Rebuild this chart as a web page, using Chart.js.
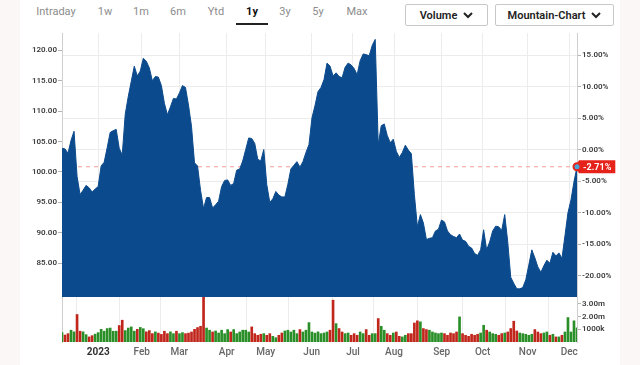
<!DOCTYPE html>
<html>
<head>
<meta charset="utf-8">
<script src="https://cdn.jsdelivr.net/npm/chart.js@4.4.0/dist/chart.umd.min.js"></script>
<style>
  body { margin: 0; width: 640px; height: 365px; background: #fcf7f7; font-family: Roboto, "Open Sans", sans-serif; overflow: hidden; }
  #panel { position: absolute; left: 20px; top: 0; width: 600px; height: 365px; background: #fff; }
  .tab { position: absolute; top: 5px; font-size: 11px; color: #8c8c8c; transform: translateX(-50%); }
  .tab.on { color: #111; font-weight: 700; }
  #underline { position: absolute; left: 236px; top: 23px; width: 32px; height: 2px; background: #222; }
  .btn { position: absolute; top: 4px; height: 20px; border: 1px solid #c9c9c9; border-radius: 2px; background: #fff;
         font-size: 11px; font-weight: 600; color: #222; display: flex; align-items: center; justify-content: center; gap: 6px; }
  .btn svg { width: 10px; height: 7px; }
  #priceBox { position: absolute; left: 0; top: 27px; }
  #volBox { position: absolute; left: 0; top: 297px; }
</style>
</head>
<body>
<div id="panel"></div>
<span class="tab" style="left:56px">Intraday</span>
<span class="tab" style="left:105px">1w</span>
<span class="tab" style="left:141px">1m</span>
<span class="tab" style="left:178px">6m</span>
<span class="tab" style="left:216px">Ytd</span>
<span class="tab on" style="left:252px">1y</span>
<span class="tab" style="left:285px">3y</span>
<span class="tab" style="left:318px">5y</span>
<span class="tab" style="left:357px">Max</span>
<div id="underline"></div>
<div class="btn" style="left:405px;width:81px">Volume <svg viewBox="0 0 10 7"><polyline points="1,1 5,5 9,1" fill="none" stroke="#222" stroke-width="2"/></svg></div>
<div class="btn" style="left:495px;width:117px">Mountain-Chart <svg viewBox="0 0 10 7"><polyline points="1,1 5,5 9,1" fill="none" stroke="#222" stroke-width="2"/></svg></div>
<div id="priceBox"><canvas id="price" width="640" height="270"></canvas></div>
<div id="volBox"><canvas id="volume" width="640" height="68"></canvas></div>
<script>
// closing prices, roughly every second trading day, Dec 2022 -> Dec 2023
var closes = [
  103.9, 103.8, 103.1, 105.2, 106.7, 99.3, 96.3, 97.0, 97.8, 97.4,
  96.7, 97.2, 97.6, 101.0, 101.6, 104.0, 106.5, 106.8, 107.0, 103.9,
  102.8, 109.5, 112.4, 114.9, 117.4, 115.8, 116.6, 118.7, 118.2, 117.1,
  115.0, 115.7, 115.6, 114.2, 111.3, 109.4, 110.7, 112.1, 112.0, 113.0,
  114.2, 113.9, 111.0, 107.5, 101.5, 101.0, 97.0, 94.0, 95.8, 95.8,
  94.1, 94.6, 95.2, 97.6, 98.6, 98.7, 97.8, 98.1, 100.3, 100.5,
  101.8, 103.7, 105.6, 105.5, 104.7, 102.1, 101.8, 103.7, 97.9, 95.0,
  95.6, 96.8, 96.2, 95.9, 95.9, 98.0, 100.5, 101.1, 101.7, 100.8,
  101.7, 103.2, 104.5, 108.9, 110.9, 113.2, 113.9, 115.2, 117.9, 117.4,
  115.8, 116.3, 115.7, 115.5, 117.2, 117.9, 117.6, 117.0, 116.0, 118.3,
  119.4, 119.3, 119.1, 120.8, 121.8, 104.5, 107.6, 107.9, 106.0, 104.8,
  105.4, 103.4, 102.4, 103.2, 104.4, 103.6, 103.0, 96.3, 91.0, 93.0,
  91.6, 88.9, 89.1, 89.2, 90.3, 90.6, 92.1, 91.8, 90.3, 89.7,
  89.4, 89.2, 89.8, 88.8, 88.6, 87.8, 87.5, 86.6, 86.3, 87.2,
  90.5, 87.2, 88.5, 90.3, 91.1, 91.0, 90.4, 93.0, 88.5, 82.7,
  81.7, 80.8, 80.8, 81.0, 82.3, 84.7, 87.2, 85.9, 84.4, 83.5,
  84.6, 85.5, 85.0, 86.8, 86.2, 86.7, 85.8, 89.5, 93.3, 95.4,
  98.4, 100.86
];

// volume in millions, same days
var volumes = [
  0.74, 0.55, 0.66, 0.93, 0.8, 2.17, 0.85, 0.8, 0.58, 0.4,
  0.5, 0.62, 0.74, 1.0, 0.85, 1.06, 1.1, 0.85, 0.85, 1.3,
  1.72, 0.9, 1.1, 1.19, 0.85, 1.0, 1.15, 1.05, 0.8, 0.9,
  0.66, 0.8, 0.7, 0.6, 0.85, 0.66, 0.8, 0.66, 0.85, 0.66,
  0.74, 0.66, 0.7, 0.79, 1.0, 1.14, 1.24, 3.6, 1.1, 0.93,
  0.79, 0.87, 0.71, 0.93, 0.66, 0.98, 0.79, 0.98, 0.66, 0.79,
  0.93, 0.93, 0.79, 1.19, 0.66, 0.53, 0.61, 0.66, 0.53, 0.66,
  0.45, 0.34, 0.53, 0.71, 0.87, 0.93, 0.79, 0.93, 0.66, 0.98,
  0.79, 0.93, 1.53, 0.79, 0.7, 0.8, 0.66, 0.71, 0.79, 0.93,
  3.3, 1.45, 1.06, 0.79, 0.66, 0.71, 0.53, 0.66, 0.53, 0.79,
  0.66, 0.98, 0.53, 0.66, 0.66, 1.85, 1.24, 0.93, 0.66, 0.53,
  0.71, 0.79, 0.45, 0.4, 0.53, 0.66, 0.66, 1.5, 1.67, 1.59,
  1.06, 0.98, 0.93, 0.79, 0.71, 0.66, 0.71, 0.66, 0.53, 0.71,
  0.66, 0.79, 1.98, 0.66, 0.53, 0.45, 0.61, 0.53, 0.61, 0.71,
  1.32, 0.93, 0.79, 0.66, 0.61, 0.53, 0.66, 0.71, 0.79, 1.06,
  1.64, 0.87, 0.71, 0.66, 0.61, 0.53, 0.61, 0.98, 0.79, 0.66,
  0.71, 0.79, 0.53, 0.61, 0.4, 0.4, 0.53, 0.79, 1.93, 0.79,
  1.67, 1.11
];

var monthTicks = [12.05, 26.46, 38.95, 54.69, 67.64, 82.91, 96.62, 110.24, 126.08, 139.69, 154.63, 168.44];
var monthLabels = ['2023', 'Feb', 'Mar', 'Apr', 'May', 'Jun', 'Jul', 'Aug', 'Sep', 'Oct', 'Nov', 'Dec'];
var priceTicks = [85, 90, 95, 100, 105, 110, 115, 120];
var pctTicks = [-20, -15, -10, -5, 0, 5, 10, 15];
var volTicks = [1, 2, 3];

var baseClose = 103.67;   // close the % axis is measured from
var priceMin = 79.45, priceMax = 122.85;
var volMax = 3.55;

var n = closes.length;
var last = closes[n - 1];
function pct(v) { return (v / baseClose - 1) * 100; }

var blue = '#0b4a8c';
var lineGrey = '#cfcfcf';
var gridGrey = '#ececec';
var tickFont = { family: 'Roboto', size: 8, weight: '600' };

// fixed axis width, and no extra label padding so the panels line up
function fixWidth(w) { return function(s) { s.width = w; s.paddingTop = 0; s.paddingBottom = 0; }; }
function setTicks(list) { return function(s) { s.ticks = list.map(function(v) { return { value: v }; }); }; }

// marker + red % badge at the last close
var lastBadge = {
  id: 'lastBadge',
  afterDraw: function(chart) {
    var ctx = chart.ctx;
    var x = chart.scales.x.getPixelForValue(n - 1);
    var y = chart.scales.y.getPixelForValue(last);
    var label = pct(last).toFixed(2) + '%';
    ctx.save();
    ctx.font = '700 9px Roboto';
    var w = ctx.measureText(label).width + 8;
    var bx = chart.chartArea.right + 2;
    ctx.fillStyle = '#e5231b';
    ctx.beginPath();
    ctx.moveTo(bx - 4, y);
    ctx.lineTo(bx, y - 6.5);
    ctx.lineTo(bx + w, y - 6.5);
    ctx.lineTo(bx + w, y + 6.5);
    ctx.lineTo(bx, y + 6.5);
    ctx.closePath();
    ctx.fill();
    ctx.fillStyle = '#fff';
    ctx.textBaseline = 'middle';
    ctx.fillText(label, bx + 4, y + 0.5);
    ctx.beginPath();
    ctx.arc(x, y, 3.5, 0, Math.PI * 2);
    ctx.fillStyle = '#4aa3d6';
    ctx.fill();
    ctx.lineWidth = 2;
    ctx.strokeStyle = '#e5231b';
    ctx.stroke();
    ctx.restore();
  }
};

new Chart('price', {
  type: 'line',
  data: {
    datasets: [
      {
        data: closes.map(function(v, i) { return { x: i, y: v }; }),
        borderColor: blue,
        backgroundColor: blue,
        borderWidth: 1,
        pointRadius: 0,
        fill: 'start',
        tension: 0,
        order: 1
      },
      {
        data: [{ x: 0, y: last }, { x: n - 1, y: last }],
        borderColor: '#f29c9c',
        borderWidth: 1,
        borderDash: [4, 4],
        pointRadius: 0,
        fill: false,
        order: 2
      }
    ]
  },
  options: {
    responsive: false,
    animation: false,
    devicePixelRatio: 1,
    layout: { padding: { top: 6, left: 0, right: 0, bottom: 0 } },
    plugins: { legend: { display: false }, tooltip: { enabled: false } },
    scales: {
      x: {
        type: 'linear', min: 0, max: n - 1,
        afterBuildTicks: setTicks(monthTicks),
        afterFit: function(s) { s.height = 0; s.paddingLeft = 0; s.paddingRight = 0; },
        ticks: { display: false },
        grid: { color: gridGrey, drawTicks: false },
        border: { display: false }
      },
      y: {
        position: 'left', min: priceMin, max: priceMax,
        afterBuildTicks: setTicks(priceTicks),
        afterFit: fixWidth(62),
        ticks: { padding: 1, color: '#3a3a3a', font: tickFont, callback: function(v) { return v.toFixed(2); } },
        grid: { drawOnChartArea: false, tickLength: 4, tickColor: '#b5b5b5' },
        border: { color: lineGrey }
      },
      yp: {
        position: 'right', min: pct(priceMin), max: pct(priceMax),
        afterBuildTicks: setTicks(pctTicks),
        afterFit: fixWidth(63),
        ticks: { padding: 1, color: '#3a3a3a', font: tickFont, callback: function(v) { return v.toFixed(2) + '%'; } },
        grid: { color: gridGrey, tickLength: 4, tickColor: '#b5b5b5' },
        border: { color: lineGrey }
      }
    }
  },
  plugins: [lastBadge]
});

new Chart('volume', {
  type: 'bar',
  data: {
    datasets: [{
      data: volumes.map(function(v, i) { return { x: i, y: v }; }),
      yAxisID: 'yv',
      backgroundColor: volumes.map(function(v, i) {
        return i === 0 || closes[i] >= closes[i - 1] ? '#2a8f28' : '#c0261c';
      }),
      barThickness: 2
    }]
  },
  options: {
    responsive: false,
    animation: false,
    devicePixelRatio: 1,
    layout: { padding: 0 },
    plugins: { legend: { display: false }, tooltip: { enabled: false } },
    scales: {
      x: {
        type: 'linear', min: 0, max: n - 1, offset: false,
        afterBuildTicks: setTicks(monthTicks),
        afterFit: function(s) { s.height = 23; s.paddingLeft = 0; s.paddingRight = 0; },
        ticks: {
          autoSkip: false, maxRotation: 0, padding: 4,
          color: function(c) { return c.index === 0 ? '#333' : '#666'; },
          font: function(c) { return { family: 'Roboto', size: 10, weight: c.index === 0 ? '700' : '500' }; },
          callback: function(v, i) { return monthLabels[i]; }
        },
        grid: { color: gridGrey, drawTicks: false },
        border: { display: false }
      },
      y: {
        position: 'left', min: 0, max: volMax,
        afterFit: fixWidth(62),
        ticks: { display: false },
        grid: { display: false },
        border: { color: lineGrey }
      },
      yv: {
        position: 'right', min: 0, max: volMax,
        afterBuildTicks: setTicks(volTicks),
        afterFit: fixWidth(63),
        ticks: {
          padding: 1, color: '#3a3a3a', font: tickFont,
          callback: function(v) { return v >= 2 ? v.toFixed(2) + 'm' : Math.round(v * 1000) + 'k'; }
        },
        grid: { drawOnChartArea: false, tickLength: 4, tickColor: '#b5b5b5' },
        border: { color: lineGrey }
      }
    }
  }
});
</script>
</body>
</html>
